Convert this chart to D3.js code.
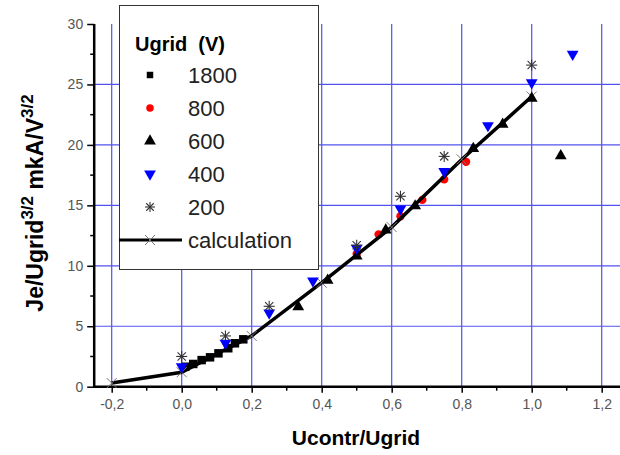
<!DOCTYPE html>
<html>
<head>
<meta charset="utf-8">
<script src="https://cdn.jsdelivr.net/npm/d3@7"></script>
<style>
  body { margin: 0; background: #fff; }
  text { font-family: Arial, "Liberation Sans", sans-serif; }
</style>
</head>
<body>
<script>
// values
var x1800 = [0.01, 0.033, 0.057, 0.081, 0.105, 0.133, 0.152, 0.176]
var y1800 = [1.65, 1.88, 2.2, 2.43, 2.76, 3.18, 3.59, 3.92]

var x800 = [0.5, 0.5625, 0.625, 0.6875, 0.75, 0.8125]
var y800 = [11.0, 12.6, 14.1, 15.45, 17.15, 18.6]

var x600 = [0.333, 0.417, 0.5, 0.583, 0.667, 0.833, 0.917, 1.0, 1.083]
var y600 = [6.6, 8.8, 10.8, 12.95, 14.95, 19.7, 21.7, 23.85, 19.1]

var x400 = [0, 0.125, 0.25, 0.375, 0.5, 0.625, 0.75, 0.875, 1.0, 1.117]
var y400 = [1.65, 3.6, 6.1, 8.75, 11.45, 14.7, 17.8, 21.6, 25.15, 27.5]

var x200 = [0, 0.125, 0.25, 0.5, 0.625, 0.75, 1.0]
var y200 = [2.5, 4.2, 6.65, 11.7, 15.75, 19.05, 26.6]

var xCalc = [-0.2, 0.0, 0.2, 0.4, 0.6, 0.8, 1.0]
var yCalc = [0.3, 1.2, 4.2, 8.6, 13.2, 18.8, 24.0]

var xTicks = [-0.2, 0.0, 0.2, 0.4, 0.6, 0.8, 1.0, 1.2]
var yTicks = [0, 5, 10, 15, 20, 25, 30]
var legendNames = ['1800', '800', '600', '400', '200', 'calculation']

var pts = function (xs, ys) {
  return xs.map(function (d, i) { return [d, ys[i]] })
}

var svg = d3.select("body").append("svg")
  .attr("width", 620)
  .attr("height", 455)

var x = d3.scaleLinear().domain([-0.25, 1.25]).range([94.2, 619.2])
var y = d3.scaleLinear().domain([0, 30]).range([386.7, 24])

var fmt = function (d) { return d3.format(".1f")(d).replace(".", ",").replace("−", "-") }

// grid
svg.append("g").selectAll("line")
    .data(xTicks)
    .enter()
  .append("line")
    .attr("x1", function (d) { return x(d) })
    .attr("x2", function (d) { return x(d) })
    .attr("y1", y(30))
    .attr("y2", y(0))
    .attr("stroke", "#5252f0")
    .attr("stroke-width", 1.2)

svg.append("g").selectAll("line")
    .data([5, 10, 15, 20, 25])
    .enter()
  .append("line")
    .attr("x1", x(-0.25))
    .attr("x2", 620)
    .attr("y1", function (d) { return y(d) })
    .attr("y2", function (d) { return y(d) })
    .attr("stroke", "#5252f0")
    .attr("stroke-width", 1.2)

// axes
var xAxis = d3.axisBottom(x).tickValues(xTicks).tickFormat(fmt).tickSize(6).tickPadding(6)
var yAxis = d3.axisLeft(y).tickValues(yTicks).tickFormat(d3.format("d")).tickSize(7).tickPadding(4)

var gx = svg.append("g").attr("transform", "translate(0," + y(0) + ")").call(xAxis)
gx.select(".domain").remove()
gx.selectAll(".tick line").attr("stroke", "#000").attr("stroke-width", 1.5)
gx.selectAll("text").attr("fill", "#555").style("font-size", "14px")
gx.append("g").selectAll("line")
    .data(d3.range(-0.1, 1.25, 0.2))
    .enter()
  .append("line")
    .attr("x1", function (d) { return x(d) })
    .attr("x2", function (d) { return x(d) })
    .attr("y1", 0)
    .attr("y2", 4)
    .attr("stroke", "#000")
    .attr("stroke-width", 1.5)

var gy = svg.append("g").attr("transform", "translate(" + x(-0.25) + ",0)").call(yAxis)
gy.select(".domain").remove()
gy.selectAll(".tick line").attr("stroke", "#000").attr("stroke-width", 1.5)
gy.selectAll("text").attr("fill", "#555").style("font-size", "14px")
gy.append("g").selectAll("line")
    .data([2.5, 7.5, 12.5, 17.5, 22.5, 27.5])
    .enter()
  .append("line")
    .attr("x1", 0)
    .attr("x2", -4)
    .attr("y1", function (d) { return y(d) })
    .attr("y2", function (d) { return y(d) })
    .attr("stroke", "#000")
    .attr("stroke-width", 1.5)

svg.append("line")
  .attr("x1", x(-0.25)).attr("x2", 620)
  .attr("y1", y(0)).attr("y2", y(0))
  .attr("stroke", "#000").attr("stroke-width", 2.5)
svg.append("line")
  .attr("x1", x(-0.25)).attr("x2", x(-0.25))
  .attr("y1", y(0) + 1).attr("y2", y(30))
  .attr("stroke", "#000").attr("stroke-width", 2.5)

// axis titles
svg.append("text")
  .attr("x", 356)
  .attr("y", 445)
  .attr("text-anchor", "middle")
  .style("font-size", "21px")
  .style("font-weight", "bold")
  .text("Ucontr/Ugrid")

var yt = svg.append("text")
  .attr("transform", "translate(43,203) rotate(-90)")
  .attr("text-anchor", "middle")
  .style("font-size", "23px")
  .style("font-weight", "bold")
yt.append("tspan").text("Je/Ugrid")
yt.append("tspan").attr("dy", -10).style("font-size", "17px").text("3/2")
yt.append("tspan").attr("dy", 10).text(" mkA/V")
yt.append("tspan").attr("dy", -10).style("font-size", "17px").text("3/2")

// marker helpers
var sym = function (type, size) { return d3.symbol().type(type).size(size)() }

var drawAsterisk = function (g, cx, cy, r) {
  [[0, -r, 0, r], [-r, 0, r, 0], [-r * 0.75, -r * 0.75, r * 0.75, r * 0.75], [-r * 0.75, r * 0.75, r * 0.75, -r * 0.75]]
    .forEach(function (l) {
      g.append("line")
        .attr("x1", cx + l[0]).attr("y1", cy + l[1])
        .attr("x2", cx + l[2]).attr("y2", cy + l[3])
        .attr("stroke", "#333").attr("stroke-width", 1.1)
    })
}
var drawCross = function (g, cx, cy, r) {
  [[-r, -r, r, r], [-r, r, r, -r]].forEach(function (l) {
    g.append("line")
      .attr("x1", cx + l[0]).attr("y1", cy + l[1])
      .attr("x2", cx + l[2]).attr("y2", cy + l[3])
      .attr("stroke", "#777").attr("stroke-width", 1)
  })
}

// data
var plot = svg.append("g")

plot.selectAll(".sq")
    .data(pts(x1800, y1800))
    .enter()
  .append("path")
    .attr("d", sym(d3.symbolSquare, 72))
    .attr("transform", function (d) { return "translate(" + x(d[0]) + "," + y(d[1]) + ")" })
    .attr("fill", "#000")

plot.selectAll(".ci")
    .data(pts(x800, y800))
    .enter()
  .append("path")
    .attr("d", sym(d3.symbolCircle, 55))
    .attr("transform", function (d) { return "translate(" + x(d[0]) + "," + y(d[1]) + ")" })
    .attr("fill", "#f00")

var line = d3.line()
  .x(function (d) { return x(d[0]) })
  .y(function (d) { return y(d[1]) })

plot.append("path")
  .datum(pts(xCalc, yCalc))
  .attr("d", line)
  .attr("fill", "none")
  .attr("stroke", "#000")
  .attr("stroke-width", 3.5)

pts(xCalc, yCalc).forEach(function (d) { drawCross(plot, x(d[0]), y(d[1]), 5) })

plot.selectAll(".tu")
    .data(pts(x600, y600))
    .enter()
  .append("path")
    .attr("d", sym(d3.symbolTriangle, 60))
    .attr("transform", function (d) { return "translate(" + x(d[0]) + "," + y(d[1]) + ")" })
    .attr("fill", "#000")

plot.selectAll(".td")
    .data(pts(x400, y400))
    .enter()
  .append("path")
    .attr("d", sym(d3.symbolTriangle, 60))
    .attr("transform", function (d) { return "translate(" + x(d[0]) + "," + y(d[1]) + ") rotate(180)" })
    .attr("fill", "#00f")

pts(x200, y200).forEach(function (d) { drawAsterisk(plot, x(d[0]), y(d[1]), 5.5) })

// legend
var lg = svg.append("g")
lg.append("rect")
  .attr("x", 119.5).attr("y", 5.5)
  .attr("width", 199).attr("height", 264)
  .attr("fill", "#fff")
  .attr("stroke", "#333")
  .attr("stroke-width", 1)

lg.append("text")
  .attr("x", 135).attr("y", 51)
  .style("font-size", "20px")
  .style("font-weight", "bold")
  .attr("xml:space", "preserve")
  .text("Ugrid  (V)")

var rowY = [75, 108, 141, 174, 207, 240]
legendNames.forEach(function (name, i) {
  lg.append("text")
    .attr("x", 188).attr("y", rowY[i] + 8)
    .style("font-size", "22px")
    .attr("fill", "#222")
    .text(name)
})
lg.append("path").attr("d", sym(d3.symbolSquare, 42)).attr("transform", "translate(150," + rowY[0] + ")").attr("fill", "#000")
lg.append("path").attr("d", sym(d3.symbolCircle, 45)).attr("transform", "translate(150," + rowY[1] + ")").attr("fill", "#f00")
lg.append("path").attr("d", sym(d3.symbolTriangle, 60)).attr("transform", "translate(150," + rowY[2] + ")").attr("fill", "#000")
lg.append("path").attr("d", sym(d3.symbolTriangle, 60)).attr("transform", "translate(150," + rowY[3] + ") rotate(180)").attr("fill", "#00f")
drawAsterisk(lg, 150, rowY[4], 5)
lg.append("line")
  .attr("x1", 119).attr("x2", 182)
  .attr("y1", rowY[5]).attr("y2", rowY[5])
  .attr("stroke", "#000").attr("stroke-width", 3)
drawCross(lg, 150, rowY[5], 5)
</script>
</body>
</html>
